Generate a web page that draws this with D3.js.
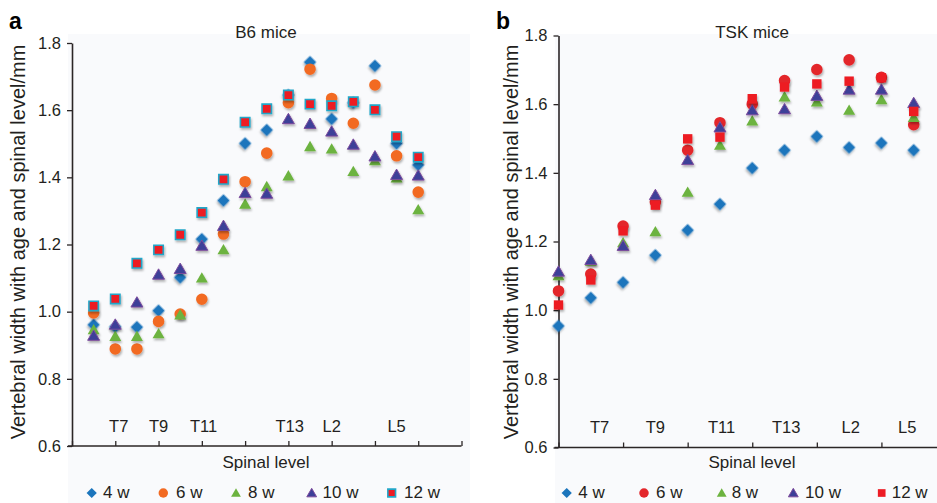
<!DOCTYPE html>
<html><head><meta charset="utf-8">
<script src="https://cdn.jsdelivr.net/npm/d3@7"></script>
<style>
html,body{margin:0;padding:0;background:#fff;}
svg{display:block;font-family:"Liberation Sans",Arial,sans-serif;}
</style></head>
<body>
<svg id="chart" width="937" height="503"></svg>
<script>
// ---------- data ----------
const series = ["4 w", "6 w", "8 w", "10 w", "12 w"];

// Panel a (B6 mice) : spinal positions 1..16
const b6Positions = [1,2,3,4,5,6,7,8,9,10,11,12,13,14,15,16];
const b6_4w  = [0.961,0.955,0.954,1.003,1.102,1.216,1.331,1.501,1.541,1.645,1.743,1.574,1.622,1.732,1.501,1.437];
const b6_6w  = [0.996,0.889,0.889,0.971,0.993,1.037,1.231,1.387,1.472,1.622,1.722,1.635,1.561,1.675,1.464,1.356];
const b6_8w  = [0.946,0.926,0.926,0.934,0.990,1.100,1.184,1.320,1.372,1.404,1.491,1.484,1.417,1.449,1.398,1.303];
const b6_10w = [0.928,0.961,1.027,1.110,1.127,1.196,1.255,1.353,1.351,1.573,1.559,1.536,1.497,1.462,1.407,1.405];
const b6_12w = [1.017,1.038,1.144,1.184,1.229,1.295,1.394,1.564,1.604,1.645,1.618,1.613,1.625,1.601,1.521,1.460];
const b6LevelLabels = ["T7","T9","T11","T13","L2","L5"];
const b6LevelAt     = [2.16, 4.0, 6.08, 10.06, 12.0, 15.0];

// Panel b (TSK mice) : spinal positions 0..11
const tskPositions = [0,1,2,3,4,5,6,7,8,9,10,11];
const tsk_4w  = [0.954,1.036,1.081,1.160,1.233,1.309,1.414,1.466,1.506,1.474,1.487,1.466];
const tsk_6w  = [1.056,1.105,1.245,1.315,1.466,1.546,1.600,1.669,1.701,1.729,1.678,1.540];
const tsk_8w  = [1.100,1.142,1.196,1.228,1.343,1.480,1.551,1.621,1.606,1.582,1.613,1.561];
const tsk_10w = [1.112,1.146,1.187,1.335,1.437,1.532,1.582,1.585,1.624,1.642,1.642,1.603];
const tsk_12w = [1.015,1.088,1.231,1.306,1.499,1.504,1.616,1.650,1.659,1.667,1.677,1.579];
const tskLevelLabels = ["T7","T9","T11","T13","L2","L5"];
const tskLevelAt     = [1.27, 3.0, 5.05, 7.05, 9.05, 10.8];

const yTicks = [0.6,0.8,1.0,1.2,1.4,1.6,1.8];
const yTitle = "Vertebral width with age and spinal level/mm";
const xTitle = "Spinal level";

// ---------- drawing ----------
const svg = d3.select("#chart");
const defs = svg.append("defs");
const f = defs.append("filter").attr("id","shadow").attr("x","-50%").attr("y","-50%").attr("width","200%").attr("height","200%");
f.append("feDropShadow").attr("dx",1).attr("dy",2).attr("stdDeviation",1).attr("flood-color","#000").attr("flood-opacity",0.3);

const TEXT = "#231f20";

function markerStyle(panel){
  return [
    {shape:"diamond", fill:"#1b75bc", stroke:"none"},
    {shape:"circle", fill: panel==="a" ? "#f26a22" : "#e3262b", stroke:"none"},
    {shape:"triangle", fill:"#6cb33f", stroke:"none"},
    {shape:"triangle", fill:"#3c3f98", stroke:"#7d4b9c"},
    {shape:"square", fill:"#ed1c24", stroke: panel==="a" ? "#22a6c8" : "none"}
  ];
}

function symPath(shape, scale){
  const s = scale||1;
  if(shape==="diamond") return d3.symbol(d3.symbolSquare, 78*s*s)();
  if(shape==="circle") return d3.symbol(d3.symbolCircle, 105*s*s)();
  if(shape==="triangle") return d3.symbol(d3.symbolTriangle, 62*s*s)();
  return d3.symbol(d3.symbolSquare, 88*s*s)();
}

function drawMarker(g, st, x, y, scale, shadow){
  const p = g.append("path").attr("d", symPath(st.shape, scale))
    .attr("fill", st.fill)
    .attr("stroke", st.stroke)
    .attr("stroke-width", st.shape==="square" ? 1.6 : 1)
    .attr("transform", `translate(${x},${y})` + (st.shape==="diamond" ? " rotate(45)" : "") + (st.shape==="triangle" ? " translate(0,1)" : ""));
  if(shadow) p.attr("filter","url(#shadow)");
  return p;
}

function panel(cfg){
  const g = svg.append("g");
  // faint chart-area tint
  g.append("rect").attr("x",cfg.tint[0]).attr("y",34).attr("width",cfg.tint[1]-cfg.tint[0]).attr("height",503-34).attr("fill","#f9fafc");

  const x = d3.scaleLinear().domain(cfg.xDomain).range(cfg.xRange);
  const y = d3.scaleLinear().domain([0.6,1.8]).range(cfg.yRange);

  // y axis
  const ya = g.append("g").attr("transform",`translate(${cfg.xRange[0]},0)`)
    .call(d3.axisLeft(y).tickValues(yTicks).tickFormat(d3.format(".1f")).tickSize(5).tickSizeOuter(0).tickPadding(6));
  ya.select(".domain").attr("stroke","#2b2626").attr("stroke-width",1.6);
  ya.selectAll(".tick line").attr("stroke","#2b2626").attr("stroke-width",1.3);
  ya.selectAll("text").attr("fill",TEXT).style("font-size","16.5px").style("font-family","Liberation Sans, Arial, sans-serif");

  // x axis (ticks pointing inward)
  const xt = d3.range(cfg.xDomain[0], cfg.xDomain[1]+0.001, 2);
  const xa = g.append("g").attr("transform",`translate(0,${cfg.yRange[0]})`)
    .call(d3.axisBottom(x).tickValues(xt).tickFormat("").tickSize(-5).tickSizeOuter(0));
  xa.select(".domain").attr("stroke","#2b2626").attr("stroke-width",1.6)
    .attr("d", `M${cfg.xRange[0]-4},0H${cfg.xRange[1]}`);
  xa.selectAll(".tick line").attr("stroke","#2b2626").attr("stroke-width",1.3);

  // level labels
  g.selectAll("text.lvl").data(cfg.levelLabels).enter().append("text").attr("class","lvl")
    .attr("x",(d,i)=>x(cfg.levelAt[i])).attr("y",cfg.yRange[0]-14.5)
    .attr("text-anchor","middle").attr("fill",TEXT).style("font-size","16.5px").text(d=>d);

  // titles
  g.append("text").attr("x",cfg.panelLabelX).attr("y",29).attr("fill","#000")
    .style("font-size","23px").style("font-weight","bold").text(cfg.panelLabel);
  g.append("text").attr("x",cfg.titleX).attr("y",38).attr("text-anchor","middle").attr("fill",TEXT)
    .style("font-size","17px").text(cfg.title);
  g.append("text").attr("transform",`translate(${cfg.yTitleX},${cfg.yTitleY}) rotate(-90)`)
    .attr("text-anchor","middle").attr("fill",TEXT).style("font-size","20px").text(yTitle);
  g.append("text").attr("x",cfg.titleX).attr("y",468).attr("text-anchor","middle").attr("fill",TEXT)
    .style("font-size","17px").text(xTitle);

  // points
  const styles = markerStyle(cfg.id);
  const pg = g.append("g");
  cfg.data.forEach((vals, si)=>{
    vals.forEach((v,i)=>{
      drawMarker(pg, styles[si], x(cfg.positions[i]), y(v), 1, true);
    });
  });

  // legend
  const lg = g.append("g");
  series.forEach((s,i)=>{
    drawMarker(lg, styles[i], cfg.legendMarkX[i], 493, 0.82, false);
    lg.append("text").attr("x",cfg.legendTextX[i]).attr("y",497.5).attr("fill",TEXT)
      .style("font-size","17px").text(s);
  });
}

panel({
  id:"a", panelLabel:"a", panelLabelX:9, title:"B6 mice", titleX:266,
  tint:[68,470],
  xDomain:[0,18], xRange:[72,461.5], yRange:[446,43],
  positions:b6Positions, data:[b6_4w,b6_6w,b6_8w,b6_10w,b6_12w],
  levelLabels:b6LevelLabels, levelAt:b6LevelAt,
  yTitleX:25, yTitleY:242,
  legendMarkX:[91.7,163.3,236,311.7,391.7], legendTextX:[103,176,248,322.5,404]
});
panel({
  id:"b", panelLabel:"b", panelLabelX:496, title:"TSK mice", titleX:752,
  tint:[555,937],
  xDomain:[0,12], xRange:[558.5,946], yRange:[447.5,35.5],
  positions:tskPositions, data:[tsk_4w,tsk_6w,tsk_8w,tsk_10w,tsk_12w],
  levelLabels:tskLevelLabels, levelAt:tskLevelAt,
  yTitleX:518, yTitleY:242,
  legendMarkX:[566.7,644,721.7,793.3,881.7], legendTextX:[578.3,656,731.7,805,891.7]
});
</script>
</body></html>
